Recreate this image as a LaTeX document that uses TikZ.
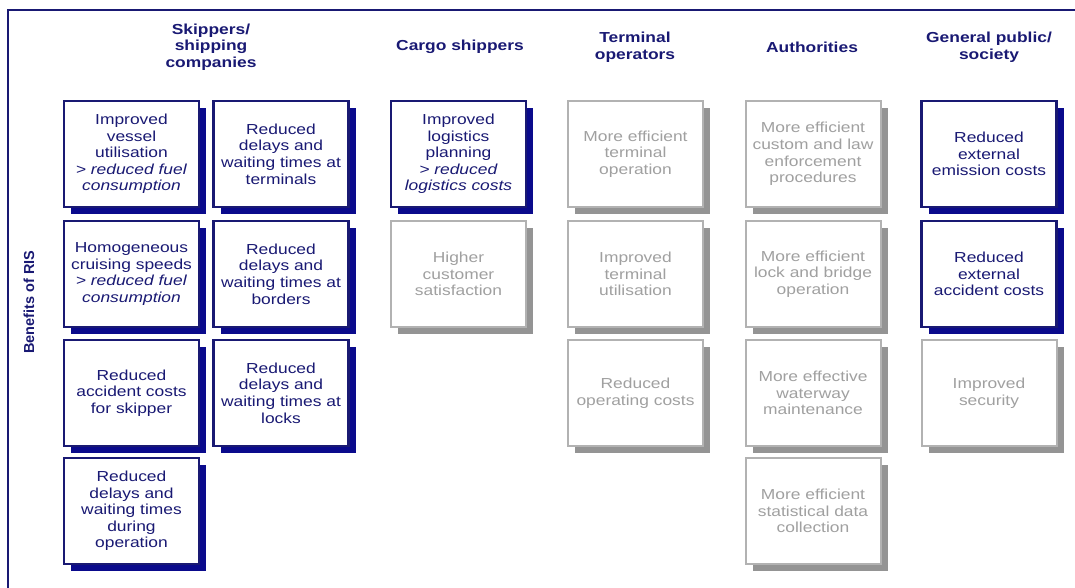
\documentclass[tikz,border=0pt]{standalone}
\usepackage{fontspec}
\setmainfont{Liberation Sans}[FakeStretch=1.2]
\newfontfamily\narrowsans{Liberation Sans}
\usepackage{tikz}
\usetikzlibrary{calc}
\usetikzlibrary{shadows}
\definecolor{colnavy}{RGB}{25,25,115}
\definecolor{colshadow}{RGB}{10,10,140}
\definecolor{colgray}{RGB}{178,178,178}
\definecolor{colgrayshadow}{RGB}{148,148,148}
\definecolor{coltextgray}{RGB}{160,160,160}

\tikzset{
    benefit/.style={fill=white, minimum width=135pt, minimum height=106pt, align=center,
        font=\fontsize{14.5}{16.6}\selectfont},
    bluebox/.style={benefit, draw=colnavy, line width=2.6pt, text=colnavy,
        drop shadow={shadow xshift=7pt, shadow yshift=-7pt, fill=colshadow, opacity=1}},
    graybox/.style={benefit, draw=colgray, line width=2pt, text=coltextgray,
        drop shadow={shadow xshift=7pt, shadow yshift=-7pt, fill=colgrayshadow, opacity=1}},
    header/.style={align=center, text=colnavy, font=\fontsize{14.5}{16.6}\selectfont\bfseries}
}

\begin{document}
\begin{tikzpicture}[x=1pt, y=-1pt]
        \useasboundingbox (0,0) rectangle (1075,588);
        \coordinate (origin) at (0, 0);
        
        \draw [colnavy, line width=2pt] ($(origin) + (8,588)$) -- ($(origin) + (8,10)$) -- ($(origin) + (1075,10)$);
        \node (benlab) [rotate=90, text=colnavy, font=\narrowsans\fontsize{14.5}{16}\selectfont\bfseries] at ($(origin) + (29,302)$) {Benefits of RIS};
        
        % column headers
        \node (hskip) [header] at ($(origin) + (211,47)$) {Skippers/\\shipping\\companies};
        \node (hcargo) [header] at ($(origin) + (460,47)$) {Cargo shippers};
        \node (hterm) [header] at ($(origin) + (635,47)$) {Terminal\\operators};
        \node (hauth) [header] at ($(origin) + (812,47)$) {Authorities};
        \node (hpub) [header] at ($(origin) + (989,47)$) {General public/\\society};
        
        % skippers / shipping companies
        \node (skA) [bluebox] at ($(origin) + (131.5,154)$) {Improved\\vessel\\utilisation\\\textit{> reduced fuel}\\\textit{consumption}};
        \node (skB) [bluebox] at ($(origin) + (131.5,274)$) {Homogeneous\\cruising speeds\\\textit{> reduced fuel}\\\textit{consumption}};
        \node (skC) [bluebox] at ($(origin) + (131.5,393)$) {Reduced\\accident costs\\for skipper};
        \node (skD) [bluebox] at ($(origin) + (131.5,511)$) {Reduced\\delays and\\waiting times\\during\\operation};
        \node (skE) [bluebox] at ($(origin) + (281,154)$) {Reduced\\delays and\\waiting times at\\terminals};
        \node (skF) [bluebox] at ($(origin) + (281,274)$) {Reduced\\delays and\\waiting times at\\borders};
        \node (skG) [bluebox] at ($(origin) + (281,393)$) {Reduced\\delays and\\waiting times at\\locks};
        
        % cargo shippers
        \node (caA) [bluebox] at ($(origin) + (458.5,154)$) {Improved\\logistics\\planning\\\textit{> reduced}\\\textit{logistics costs}};
        \node (caB) [graybox] at ($(origin) + (458.5,274)$) {Higher\\customer\\satisfaction};
        
        % terminal operators
        \node (teA) [graybox] at ($(origin) + (635.5,154)$) {More efficient\\terminal\\operation};
        \node (teB) [graybox] at ($(origin) + (635.5,274)$) {Improved\\terminal\\utilisation};
        \node (teC) [graybox] at ($(origin) + (635.5,393)$) {Reduced\\operating costs};
        
        % authorities
        \node (auA) [graybox] at ($(origin) + (813,154)$) {More efficient\\custom and law\\enforcement\\procedures};
        \node (auB) [graybox] at ($(origin) + (813,274)$) {More efficient\\lock and bridge\\operation};
        \node (auC) [graybox] at ($(origin) + (813,393)$) {More effective\\waterway\\maintenance};
        \node (auD) [graybox] at ($(origin) + (813,511)$) {More efficient\\statistical data\\collection};
        
        % general public / society
        \node (puA) [bluebox] at ($(origin) + (989,154)$) {Reduced\\external\\emission costs};
        \node (puB) [bluebox] at ($(origin) + (989,274)$) {Reduced\\external\\accident costs};
        \node (puC) [graybox] at ($(origin) + (989,393)$) {Improved\\security};
\end{tikzpicture}
\end{document}
